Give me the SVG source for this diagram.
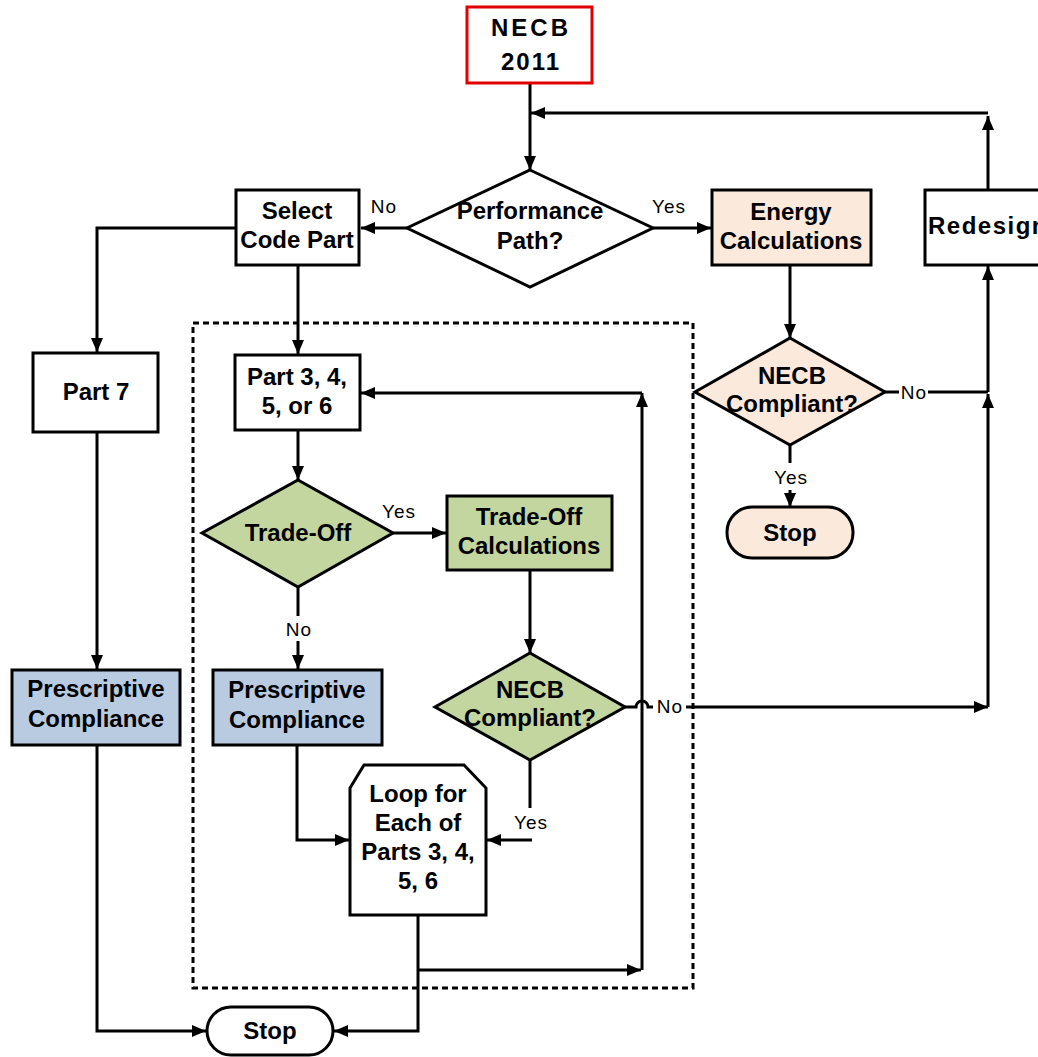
<svg xmlns="http://www.w3.org/2000/svg" width="1038" height="1057" viewBox="0 0 1038 1057">
  <style>
    .box { stroke: #000; stroke-width: 3; }
    .plain { fill: #fff; }
    .green { fill: #c4d69f; }
    .blue { fill: #b9cbe1; }
    .peach { fill: #fbe9dc; }
    .t { font-family: "Liberation Sans", Arial, sans-serif; font-size: 24px; font-weight: bold; text-anchor: middle; fill: #000; }
    .lbl { font-family: "Liberation Sans", Arial, sans-serif; font-size: 19px; text-anchor: middle; fill: #000; letter-spacing: 1px; }
    .c { fill: none; stroke: #000; stroke-width: 3; }
    .a { marker-end: url(#arr); }
    .dash { fill: none; stroke: #000; stroke-width: 3; stroke-dasharray: 6 4; }
  </style>
  <defs>
    <marker id="arr" viewBox="0 0 14 12" refX="14" refY="6" markerWidth="14" markerHeight="12" markerUnits="userSpaceOnUse" orient="auto">
      <path d="M0,0 L14,6 L0,12 z" fill="#000"/>
    </marker>
  </defs>
  <rect width="1038" height="1057" fill="#fff"/>

  <!-- dashed frame around the per-part loop -->
  <rect class="dash" x="193" y="323" width="500" height="665"/>

  <!-- connectors -->
  <g id="connectors">
    <path class="c a" d="M530,83 V170"/>
    <path class="c a" d="M407,228 H361"/>
    <path class="c a" d="M653,228 H711"/>
    <path class="c a" d="M236,228 H97 V352"/>
    <path class="c a" d="M97,432 V669"/>
    <path class="c a" d="M97,745 V1031 H206"/>
    <path class="c a" d="M298,265 V354"/>
    <path class="c a" d="M298,430 V480"/>
    <path class="c" d="M298,587 V616"/>
    <path class="c a" d="M298,641 V669"/>
    <path class="c a" d="M393,533 H446"/>
    <path class="c a" d="M530,570 V653"/>
    <path class="c" d="M530,760 V808"/>
    <path class="c a" d="M532,840 H487"/>
    <path class="c a" d="M297,745 V840 H349"/>
    <path class="c a" d="M418,915 V1031 H334"/>
    <path class="c a" d="M418,970 H641"/>
    <path class="c a" d="M642,970 V393"/>
    <path class="c a" d="M642,393 H361"/>
    <!-- "No" from the trade-off check, hopping over the loop-back line -->
    <path class="c" d="M625,707 H636 A6,6 0 0 1 648,707 H653"/>
    <path class="c a" d="M686,707 H988"/>
    <path class="c a" d="M988,707 V394"/>
    <path class="c" d="M885,392 H899"/>
    <path class="c" d="M928,392 H988"/>
    <path class="c a" d="M988,392 V266"/>
    <path class="c a" d="M988,190 V116"/>
    <path class="c a" d="M988,113 H531"/>
    <path class="c a" d="M790,265 V338"/>
    <path class="c" d="M790,445 V463"/>
    <path class="c a" d="M790,490 V507"/>
  </g>

  <!-- connector labels -->
  <g id="labels">
    <text class="lbl" x="384" y="213">No</text>
    <text class="lbl" x="669" y="213">Yes</text>
    <text class="lbl" x="399" y="518">Yes</text>
    <text class="lbl" x="299" y="636">No</text>
    <text class="lbl" x="670" y="713">No</text>
    <text class="lbl" x="531" y="829">Yes</text>
    <text class="lbl" x="914" y="399">No</text>
    <text class="lbl" x="791" y="484">Yes</text>
  </g>

  <g id="necb2011">
    <rect x="467" y="7" width="125" height="76" fill="#fff" stroke="#e00000" stroke-width="3"/>
    <text class="t" x="531" y="36" style="letter-spacing:3px">NECB</text>
    <text class="t" x="531" y="70" style="letter-spacing:2px">2011</text>
  </g>

  <g id="performance-path">
    <polygon class="box plain" points="530,170 653,228 530,287 407,228"/>
    <text class="t" x="530" y="219">Performance</text>
    <text class="t" x="530" y="249">Path?</text>
  </g>

  <g id="select-code-part">
    <rect class="box plain" x="236" y="190" width="123" height="75"/>
    <text class="t" x="297" y="219">Select</text>
    <text class="t" x="297" y="248">Code Part</text>
  </g>

  <g id="energy-calculations">
    <rect class="box peach" x="712" y="190" width="159" height="75"/>
    <text class="t" x="791" y="220">Energy</text>
    <text class="t" x="791" y="249">Calculations</text>
  </g>

  <g id="redesign">
    <rect class="box plain" x="925" y="190" width="126" height="75"/>
    <text class="t" x="988" y="234" style="letter-spacing:1.5px">Redesign</text>
  </g>

  <g id="necb-compliant-performance">
    <polygon class="box peach" points="790,338 885,392 790,445 695,392"/>
    <text class="t" x="792" y="384">NECB</text>
    <text class="t" x="792" y="412">Compliant?</text>
  </g>

  <g id="stop-performance">
    <rect class="box peach" x="727" y="507" width="126" height="51" rx="25" ry="25"/>
    <text class="t" x="790" y="541">Stop</text>
  </g>

  <g id="part-7">
    <rect class="box plain" x="33" y="353" width="125" height="79"/>
    <text class="t" x="96" y="400">Part 7</text>
  </g>

  <g id="part-3-6">
    <rect class="box plain" x="235" y="355" width="125" height="75"/>
    <text class="t" x="297" y="385">Part 3, 4,</text>
    <text class="t" x="297" y="414">5, or 6</text>
  </g>

  <g id="trade-off">
    <polygon class="box green" points="298,480 393,533 298,587 202,533"/>
    <text class="t" x="298" y="541">Trade-Off</text>
  </g>

  <g id="trade-off-calculations">
    <rect class="box green" x="447" y="496" width="165" height="74"/>
    <text class="t" x="529" y="525">Trade-Off</text>
    <text class="t" x="529" y="554">Calculations</text>
  </g>

  <g id="necb-compliant-trade-off">
    <polygon class="box green" points="530,653 625,707 530,760 435,707"/>
    <text class="t" x="530" y="698">NECB</text>
    <text class="t" x="530" y="726">Compliant?</text>
  </g>

  <g id="prescriptive-part-7">
    <rect class="box blue" x="12" y="670" width="168" height="75"/>
    <text class="t" x="96" y="697">Prescriptive</text>
    <text class="t" x="96" y="727">Compliance</text>
  </g>

  <g id="prescriptive-part-3-6">
    <rect class="box blue" x="213" y="670" width="169" height="75"/>
    <text class="t" x="297" y="698">Prescriptive</text>
    <text class="t" x="297" y="728">Compliance</text>
  </g>

  <g id="loop-parts">
    <polygon class="box plain" points="350,788 364,765 464,765 486,788 486,915 350,915"/>
    <text class="t" x="418" y="802">Loop for</text>
    <text class="t" x="418" y="831">Each of</text>
    <text class="t" x="418" y="860">Parts 3, 4,</text>
    <text class="t" x="418" y="889">5, 6</text>
  </g>

  <g id="stop-prescriptive">
    <rect class="box plain" x="207" y="1007" width="126" height="48" rx="24" ry="24"/>
    <text class="t" x="270" y="1039">Stop</text>
  </g>
</svg>
